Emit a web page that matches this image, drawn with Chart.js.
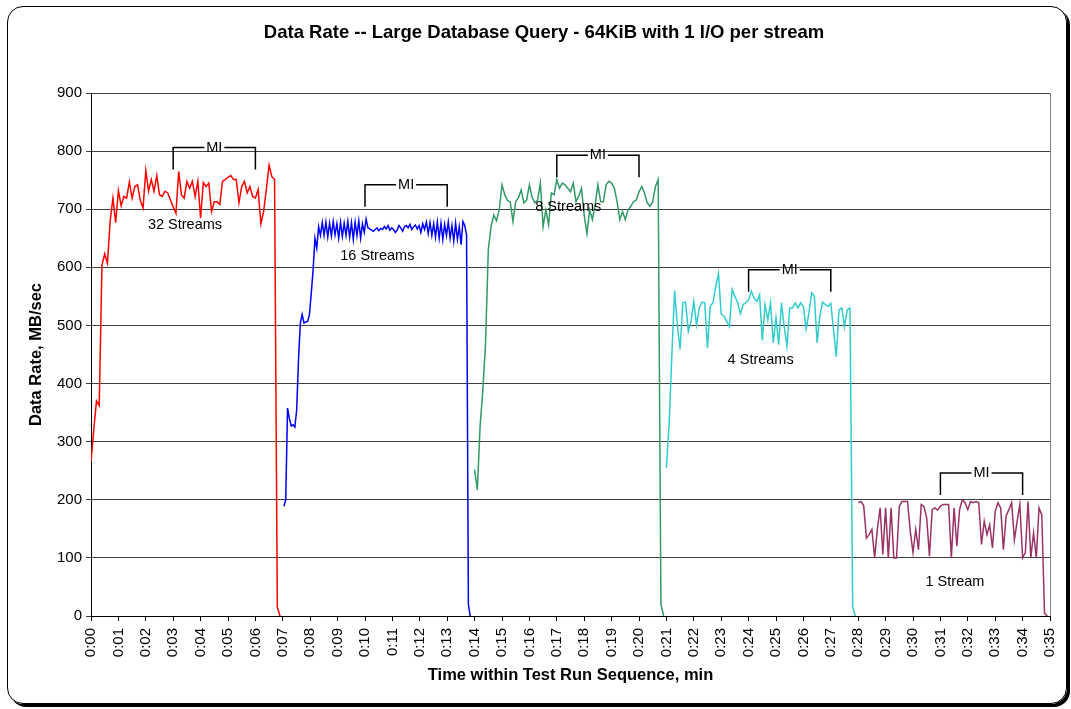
<!DOCTYPE html>
<html>
<head>
<meta charset="utf-8">
<script src="https://cdn.jsdelivr.net/npm/chart.js@4.4.1/dist/chart.umd.min.js"></script>
<style>
  html, body { margin: 0; padding: 0; background: #fff; }
  #wrap { position: relative; width: 1071px; height: 709px; }
  #frame {
    position: absolute; left: 7px; top: 6px; width: 1058px; height: 696px;
    border: 1px solid #000; border-radius: 16px; box-shadow: 3px 3px 0 #000;
  }
  #chart { position: absolute; left: 0; top: 0; }
</style>
</head>
<body>
<div id="wrap">
  <div id="frame"></div>
  <canvas id="chart" width="1071" height="709"></canvas>
</div>
<script>
/* ============================
   DATA — rate samples, MB/sec
   ============================ */

// each run is sampled at a fixed interval (minutes) from its start time
const start32 = 0,     step32 = 0.1;
const start16 = 7.04,  step16 = 1 / 15;
const start8  = 14.0,  step8  = 0.1;
const start4  = 21.0,  step4  = 0.1;
const start1  = 28.0,  step1  = 0.1;

const rate32 = [265,320,370,362,604,623,607,680,719,677, 732,706,722,719,747,719,739,742,715,702,
  767,731,751,731,758,725,722,731,728,716, 704,693,765,725,719,748,736,748,722,748,
  685,746,739,745,696,713,713,708,748,751, 755,758,751,751,711,739,748,728,739,722,
  719,734,675,696,734,776,756,751,15,0];

const rate16 = [189,200,358,340,327,329,325,355,441,504, 519,504,506,507,519,556,596,650,633,670,
  655,677,655,678,652,676,654,679,656,675, 650,678,653,676,655,679,652,677,648,678,
  655,680,650,675,660,683,668,666,664,662, 665,668,663,667,665,670,666,672,664,668,
  665,660,664,672,668,662,670,672,668,674, 665,670,673,666,672,660,675,665,678,658,
  677,655,675,652,678,650,676,648,674,655, 678,650,672,645,676,648,670,639,679,672,
  656,20,0];

const rate8 = [252,217,326,389,470,630,670,690,680,700, 742,725,715,713,679,713,720,733,711,716,
  742,720,711,716,745,670,699,673,728,725, 751,736,745,742,736,730,745,713,722,736,
  690,658,699,682,708,742,713,713,742,748, 745,736,713,682,696,682,699,705,713,716,
  730,739,728,711,705,713,739,751,20,0];

const rate4 = [255,330,450,560,500,459,539,540,490,507, 541,501,530,540,539,461,533,539,567,589,
  520,516,507,498,562,550,539,520,536,539, 544,559,547,541,553,474,536,510,539,470,
  513,467,539,498,464,530,530,539,530,539, 532,494,521,556,550,470,516,540,536,533,
  538,493,446,527,530,498,527,530,15,0];

const rate1 = [195,197,190,134,140,149,100,150,186,106, 186,100,186,100,100,189,197,197,197,146,
  109,149,114,192,188,169,103,183,186,182, 189,192,192,192,100,186,120,183,200,195,
  183,197,195,197,195,123,163,140,157,117, 180,195,186,114,172,183,195,131,163,192,
  100,109,197,100,143,100,186,174,5,0];

// run captions
const streamNames = ['32 Streams', '16 Streams', '8 Streams', '4 Streams', '1 Stream'];
const nameTimes   = [3.43, 10.45, 17.42, 24.44, 31.53];
const nameRates   = [672, 620, 704, 441, 59];

// measurement interval brackets
const miFrom  = [3, 10, 17, 24, 31];
const miTo    = [6, 13, 20, 27, 34];
const miRates = [806, 742, 793, 596, 246];

const chartTitle = 'Data Rate -- Large Database Query - 64KiB with 1 I/O per stream';

const FONT = '"Liberation Sans", Arial, sans-serif';

function toPoints(start, step, values) {
  return values.map((v, i) => ({ x: start + i * step, y: v }));
}

function runLine(values, start, step, color) {
  return {
    data: toPoints(start, step, values),
    borderColor: color,
    borderWidth: 1.5,
    pointRadius: 0,
    tension: 0,
    fill: false
  };
}

/* ============================
   PLUGINS
   ============================ */

// heading, centred on the frame rather than the plot
const frameTitle = {
  id: 'frameTitle',
  afterDraw(chart) {
    const { ctx } = chart;
    ctx.save();
    ctx.font = 'bold 18.5px ' + FONT;
    ctx.fillStyle = '#000';
    ctx.textAlign = 'center';
    ctx.textBaseline = 'middle';
    ctx.fillText(chartTitle, 544, 33);
    ctx.restore();
  }
};

// gray right edge of the plot area
const plotEdge = {
  id: 'plotEdge',
  beforeDatasetsDraw(chart) {
    const { ctx, chartArea: a } = chart;
    ctx.save();
    ctx.strokeStyle = '#808080';
    ctx.lineWidth = 1;
    ctx.beginPath();
    ctx.moveTo(Math.round(a.right) + 0.5, a.top);
    ctx.lineTo(Math.round(a.right) + 0.5, a.bottom);
    ctx.stroke();
    ctx.restore();
  }
};

// run captions and "MI" brackets
const streamNotes = {
  id: 'streamNotes',
  afterDatasetsDraw(chart) {
    const { ctx, scales: { x, y } } = chart;
    ctx.save();
    ctx.font = '14.5px ' + FONT;
    ctx.fillStyle = '#000';
    ctx.textAlign = 'center';
    ctx.textBaseline = 'middle';
    streamNames.forEach((name, i) => {
      ctx.fillText(name, x.getPixelForValue(nameTimes[i]), y.getPixelForValue(nameRates[i]));
    });

    ctx.strokeStyle = '#000';
    ctx.lineWidth = 1.5;
    miFrom.forEach((t0, i) => {
      const x0 = x.getPixelForValue(t0);
      const x1 = x.getPixelForValue(miTo[i]);
      const yt = y.getPixelForValue(miRates[i]);
      const xm = (x0 + x1) / 2;
      const gap = 10, leg = 22;
      ctx.beginPath();
      ctx.moveTo(x0, yt + leg);
      ctx.lineTo(x0, yt);
      ctx.lineTo(xm - gap, yt);
      ctx.moveTo(xm + gap, yt);
      ctx.lineTo(x1, yt);
      ctx.lineTo(x1, yt + leg);
      ctx.stroke();
      ctx.fillText('MI', xm, yt);
    });
    ctx.restore();
  }
};

/* ============================
   CHART
   ============================ */

new Chart(document.getElementById('chart'), {
  type: 'line',
  data: {
    datasets: [
      runLine(rate32, start32, step32, '#ff0000'),
      runLine(rate16, start16, step16, '#0000ff'),
      runLine(rate8,  start8,  step8,  '#339966'),
      runLine(rate4,  start4,  step4,  '#33cccc'),
      runLine(rate1,  start1,  step1,  '#993366')
    ]
  },
  options: {
    responsive: false,
    animation: false,
    layout: { padding: { left: 20, right: 21, top: 93, bottom: 14 } },
    plugins: {
      legend: { display: false },
      tooltip: { enabled: false },
      title: { display: false }
    },
    scales: {
      x: {
        type: 'linear',
        min: 0,
        max: 35,
        afterFit: s => { s.height = 79; s.paddingLeft = 0; s.paddingRight = 0; },
        ticks: {
          stepSize: 1,
          autoSkip: false,
          maxRotation: 90,
          minRotation: 90,
          color: '#000',
          padding: 7,
          font: { family: FONT, size: 15 },
          callback: v => '0:' + String(v).padStart(2, '0')
        },
        grid: { drawOnChartArea: false, tickLength: 5, color: '#000' },
        border: { color: '#000', width: 1 },
        title: {
          display: true,
          text: 'Time within Test Run Sequence, min',
          color: '#000',
          font: { family: FONT, size: 16.5, weight: 'bold' },
          padding: { top: 0, bottom: 10 }
        }
      },
      y: {
        min: 0,
        max: 900,
        afterFit: s => { s.width = 71; },
        ticks: {
          stepSize: 100,
          color: '#000',
          padding: 4,
          font: { family: FONT, size: 15 }
        },
        grid: { color: '#404040', tickLength: 5 },
        border: { color: '#000', width: 1 },
        title: {
          display: true,
          text: 'Data Rate, MB/sec',
          color: '#000',
          font: { family: FONT, size: 16.5, weight: 'bold' },
          padding: { top: 7, bottom: 0 }
        }
      }
    }
  },
  plugins: [plotEdge, streamNotes, frameTitle]
});
</script>
</body>
</html>
